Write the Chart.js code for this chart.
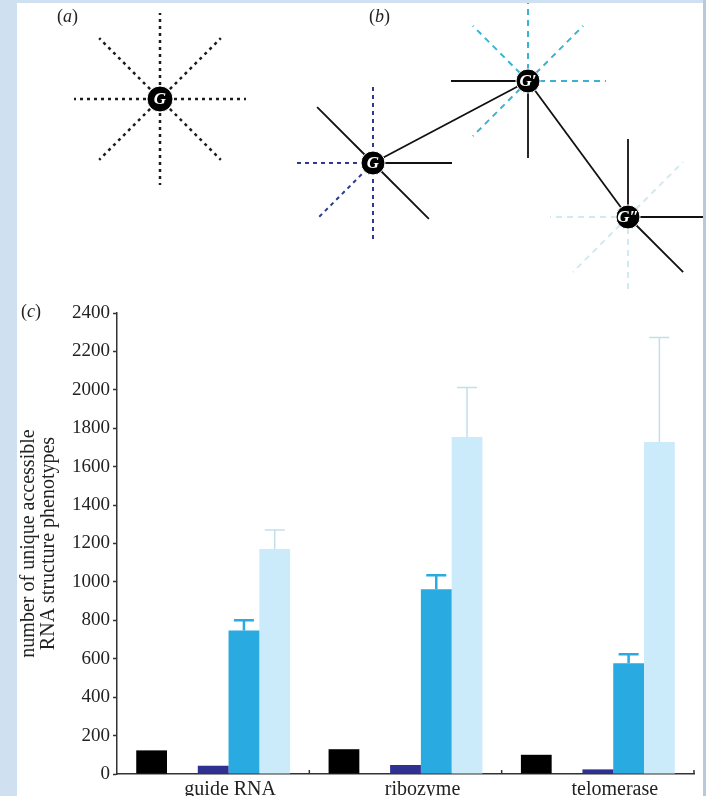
<!DOCTYPE html>
<html>
<head>
<meta charset="utf-8">
<script src="https://cdn.jsdelivr.net/npm/chart.js@4.4.1/dist/chart.umd.min.js"></script>
<style>
  html, body { margin: 0; padding: 0; }
  body { width: 706px; height: 796px; overflow: hidden; position: relative; background: #cfe0f1; font-family: "Liberation Serif", serif; }
  #panel { position: absolute; left: 17px; top: 3px; width: 686px; height: 800px; background: #fff; }
  #edge { position: absolute; left: 703px; top: 0; width: 3px; height: 796px; background: #b9c9db; }
  .tag { position: absolute; font-size: 18px; color: #222; }
  .tag i { font-style: italic; }
  #diagram { position: absolute; left: 17px; top: 3px; }
  #bars { position: absolute; left: 17px; top: 290px; }
</style>
</head>
<body>
<div id="panel"></div>
<div id="edge"></div>
<canvas id="diagram" width="686" height="287"></canvas>
<canvas id="bars" width="686" height="516"></canvas>
<div class="tag" style="left:57px;top:6px">(<i>a</i>)</div>
<div class="tag" style="left:369px;top:6px">(<i>b</i>)</div>
<div class="tag" style="left:21px;top:301px">(<i>c</i>)</div>
<script>
// ---- bar chart data (c) ----
const categories = ['guide RNA', 'ribozyme', 'telomerase'];
const blackVals = [123, 129, 100];
const spacerVals = [null, null, null];
const navyVals = [43, 47, 24];
const blueVals = [747, 962, 576];
const blueErr = [54, 73, 47];
const lightVals = [1171, 1755, 1729];
const lightErr = [99, 257, 544];
const yTicks = [0, 200, 400, 600, 800, 1000, 1200, 1400, 1600, 1800, 2000, 2200, 2400];

// ---- diagrams (a) and (b), in page pixels ----
const nodes = [
  { x: 160, y: 99, r: 13, text: 'G' },
  { x: 373, y: 163, r: 12, text: 'G' },
  { x: 528, y: 81, r: 12, text: 'G\u2032' },
  { x: 628, y: 217, r: 12, text: 'G\u2033' }
];
const spokes = [
  { node: 0, angles: [0, 45, 90, 135, 180, 225, 270, 315], len: 86, color: '#1c1c1c', dash: [3, 4], width: 2.5 },
  { node: 1, angles: [90, 180, 225, 270], len: 80, color: '#2d3a8f', dash: [4, 4], width: 2 },
  { node: 1, angles: [0, 135, 315], len: 79, color: '#111', dash: [], width: 1.8 },
  { node: 2, angles: [0, 45, 90, 135, 225], len: 78, color: '#3ab2d3', dash: [6, 5], width: 2 },
  { node: 2, angles: [180, 270], len: 77, color: '#111', dash: [], width: 1.8 },
  { node: 3, angles: [45, 180, 225, 270], len: 78, color: '#cdebf0', dash: [6, 5], width: 2 },
  { node: 3, angles: [0, 90, 315], len: 78, color: '#111', dash: [], width: 1.8 }
];
const links = [[1, 2], [2, 3]];

const serif = '"Liberation Serif", "Times New Roman", serif';

const diagramSets = [{
  data: nodes.map(n => ({ x: n.x, y: n.y })),
  pointRadius: nodes.map(n => n.r),
  backgroundColor: '#000',
  borderColor: '#fff',
  borderWidth: 1,
  showLine: false
}];
links.forEach(([a, b]) => {
  diagramSets.push({
    data: [{ x: nodes[a].x, y: nodes[a].y }, { x: nodes[b].x, y: nodes[b].y }],
    showLine: true, borderColor: '#111', borderWidth: 1.8, pointRadius: 0
  });
});
spokes.forEach(s => {
  const n = nodes[s.node];
  s.angles.forEach(a => {
    const rad = a * Math.PI / 180;
    diagramSets.push({
      data: [{ x: n.x, y: n.y }, { x: n.x + s.len * Math.cos(rad), y: n.y - s.len * Math.sin(rad) }],
      showLine: true, borderColor: s.color, borderWidth: s.width, borderDash: s.dash, pointRadius: 0
    });
  });
});

const nodeLabels = {
  id: 'nodeLabels',
  afterDatasetsDraw(chart) {
    const { ctx, scales: { x, y } } = chart;
    ctx.save();
    ctx.fillStyle = '#fff';
    ctx.font = 'italic bold 17px ' + serif;
    ctx.textAlign = 'center';
    ctx.textBaseline = 'middle';
    nodes.forEach(n => ctx.fillText(n.text, x.getPixelForValue(n.x), y.getPixelForValue(n.y) + 1));
    ctx.restore();
  }
};

new Chart(document.getElementById('diagram'), {
  type: 'scatter',
  data: { datasets: diagramSets },
  options: {
    responsive: false,
    animation: false,
    devicePixelRatio: 1,
    layout: { padding: 0, autoPadding: false },
    plugins: { legend: { display: false }, tooltip: { enabled: false } },
    scales: {
      x: { type: 'linear', min: 17, max: 703, display: false },
      y: { type: 'linear', min: 3, max: 290, reverse: true, display: false }
    }
  },
  plugins: [nodeLabels]
});

// error bars on top of the blue bars
const errorBars = {
  id: 'errorBars',
  afterDatasetsDraw(chart) {
    const { ctx, scales: { y } } = chart;
    chart.data.datasets.forEach((ds, i) => {
      if (!ds.errors) return;
      chart.getDatasetMeta(i).data.forEach((bar, j) => {
        const top = y.getPixelForValue(ds.data[j] + ds.errors[j]);
        ctx.save();
        ctx.strokeStyle = ds.errorColor;
        ctx.lineWidth = ds.errorWidth;
        ctx.beginPath();
        ctx.moveTo(bar.x, bar.y);
        ctx.lineTo(bar.x, top);
        ctx.moveTo(bar.x - 10, top);
        ctx.lineTo(bar.x + 10, top);
        ctx.stroke();
        ctx.restore();
      });
    });
  }
};

// small upward ticks at the category boundaries
const xMarks = {
  id: 'xMarks',
  afterDraw(chart) {
    const { ctx, scales: { x } } = chart;
    const step = (x.right - x.left) / categories.length;
    ctx.save();
    ctx.strokeStyle = '#333';
    ctx.lineWidth = 1.5;
    ctx.beginPath();
    for (let i = 1; i <= categories.length; i++) {
      const px = x.left + step * i;
      ctx.moveTo(px, x.top);
      ctx.lineTo(px, x.top - 4);
    }
    ctx.stroke();
    ctx.restore();
  }
};

new Chart(document.getElementById('bars'), {
  type: 'bar',
  data: {
    labels: categories,
    datasets: [
      { label: 'black', data: blackVals, backgroundColor: '#000' },
      { label: 'spacer', data: spacerVals, backgroundColor: 'rgba(0,0,0,0)' },
      { label: 'navy', data: navyVals, backgroundColor: '#2e3192' },
      { label: 'blue', data: blueVals, backgroundColor: '#29abe2', errors: blueErr, errorColor: '#29abe2', errorWidth: 2.5 },
      { label: 'light', data: lightVals, backgroundColor: '#cbebfa', errors: lightErr, errorColor: '#c3dfec', errorWidth: 1.5 }
    ]
  },
  options: {
    responsive: false,
    animation: false,
    devicePixelRatio: 1,
    layout: { padding: { top: 23, right: 9, bottom: 0, left: 0 } },
    datasets: { bar: { categoryPercentage: 0.8, barPercentage: 1.0 } },
    plugins: { legend: { display: false }, tooltip: { enabled: false } },
    scales: {
      x: {
        grid: { display: false, drawTicks: false, tickLength: 0 },
        border: { color: '#333', width: 1.5 },
        ticks: { color: '#222', padding: 4, labelOffset: 17, font: { family: serif, size: 20 } }
      },
      y: {
        min: 0,
        max: 2400,
        afterBuildTicks: s => { s.ticks = yTicks.map(v => ({ value: v })); },
        afterFit: s => { s.width = 100; },
        grid: { drawOnChartArea: false, tickLength: 4, color: '#333', tickWidth: 1.5 },
        border: { color: '#333', width: 1.5 },
        ticks: { color: '#222', padding: 3, font: { family: serif, size: 19 }, callback: v => String(v) },
        title: {
          display: true,
          text: ['number of unique accessible', 'RNA structure phenotypes'],
          color: '#222',
          font: { family: serif, size: 20, lineHeight: 1.0 },
          padding: { top: 2, bottom: 2 }
        }
      }
    }
  },
  plugins: [errorBars, xMarks]
});
</script>
</body>
</html>
